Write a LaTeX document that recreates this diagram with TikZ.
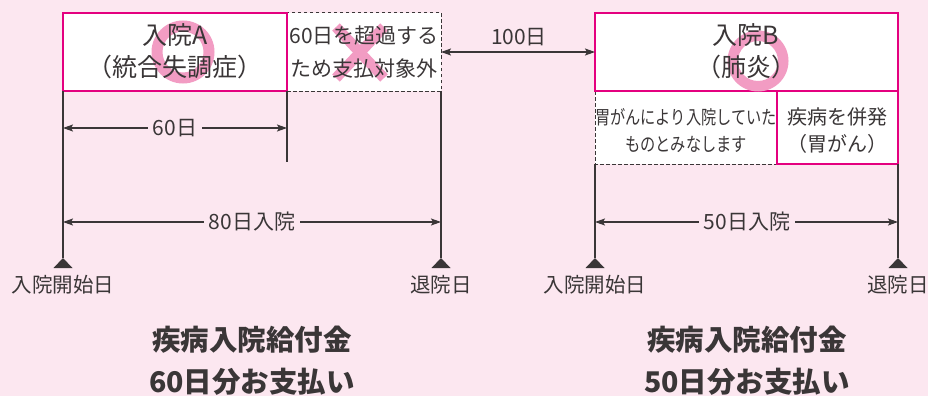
\documentclass[tikz,border=0pt]{standalone}
\usepackage{fontspec}
\setmainfont{Noto Sans CJK JP}
\usetikzlibrary{arrows.meta}
\definecolor{bg}{HTML}{FCE7F0}
\definecolor{mag}{HTML}{E4007F}
\definecolor{ringc}{HTML}{F29CC3}
\definecolor{ink}{HTML}{3A3637}
\tikzset{
  pinkbox/.style={draw=mag, line width=1.7pt, fill=white},
  dashbox/.style={draw=ink, dash pattern=on 3.5pt off 2.5pt, line width=1pt, fill=white},
  vline/.style={draw=ink, line width=1.1pt},
  dimline/.style={draw=ink, line width=1.1pt, {Stealth[length=10pt,width=7pt,inset=2pt]}-{Stealth[length=10pt,width=7pt,inset=2pt]}},
  txt/.style={text=ink, font=\fontsize{21}{33}\selectfont, align=center, inner sep=0pt},
  head/.style={txt, font=\fontsize{25}{32}\selectfont},
  lab/.style={txt, fill=bg, inner xsep=5pt, inner ysep=2pt},
  small/.style={txt, font=\fontsize{20}{27}\selectfont},
  big/.style={txt, font=\fontsize{28.5}{42}\selectfont\bfseries},
  markfill/.style={fill=ringc, even odd rule},
  tick/.style={fill=ink},
}
\begin{document}
\begin{tikzpicture}[x=1pt,y=-1pt]
\fill[bg] (0,0) rectangle (928,396);
\useasboundingbox (0,0) rectangle (928,396);

% coordinates
\coordinate (a1) at (63,91);  \coordinate (a1b) at (63,258);
\coordinate (a2) at (287,91); \coordinate (a2b) at (287,162);
\coordinate (a3) at (441,91); \coordinate (a3b) at (441,258);
\coordinate (b1) at (595,164); \coordinate (b1b) at (595,258);
\coordinate (b2) at (898,164); \coordinate (b2b) at (898,258);

% boxes
\path[dashbox] (287,13) rectangle (441,91);
\path[pinkbox] (63,13) rectangle (287,91);
\path[dashbox] (595,91) rectangle (777,164);
\path[pinkbox] (777,91) rectangle (898,164);
\path[pinkbox] (595,13) rectangle (898,91);

% marks (filled rings and cross)
\fill[markfill] (183,52) circle[radius=31.5pt] circle[radius=20.5pt];
\fill[markfill] (758,61) circle[radius=30.5pt] circle[radius=20pt];
\fill[ringc] (339.8,23.4) -- (387.8,74.4) -- (380.2,81.6) -- (332.2,30.6) -- cycle;
\fill[ringc] (387.8,30.6) -- (339.8,81.6) -- (332.2,74.4) -- (380.2,23.4) -- cycle;

% texts in boxes
\node[head] (tA) at (175,51) {入院A\\（統合失調症）};
\node[txt] (tX) at (364,52) {60日を超過する\\ため支払対象外};
\node[head] (tB) at (746,51) {入院B\\（肺炎）};
\node[txt, font=\fontsize{19}{27}\selectfont] (tC) at (686,131) {\scalebox{0.8}[1]{胃がんにより入院していた}\\\scalebox{0.8}[1]{ものとみなします}};
\node[small] (tD) at (837,131) {疾病を併発\\（胃がん）};

% vertical lines
\draw[vline] (a1) -- (a1b);
\draw[vline] (a2) -- (a2b);
\draw[vline] (a3) -- (a3b);
\draw[vline] (b1) -- (b1b);
\draw[vline] (b2) -- (b2b);

% triangles
\fill[tick] (a1b) -- ++(-9.5,10) -- ++(19,0) -- cycle;
\fill[tick] (a3b) -- ++(-9.5,10) -- ++(19,0) -- cycle;
\fill[tick] (b1b) -- ++(-9.5,10) -- ++(19,0) -- cycle;
\fill[tick] (b2b) -- ++(-9.5,10) -- ++(19,0) -- cycle;

% dimension arrows
\coordinate (d60a) at (63,128); \coordinate (d60b) at (287,128);
\draw[dimline] (d60a) -- (d60b);
\node[lab] (l60) at (175,128) {60日};
\coordinate (d100a) at (441,52); \coordinate (d100b) at (595,52);
\draw[dimline] (d100a) -- (d100b);
\node[txt] (l100) at (519,37) {100日};
\coordinate (d80a) at (63,222); \coordinate (d80b) at (441,222);
\draw[dimline] (d80a) -- (d80b);
\node[lab] (l80) at (252,222) {80日入院};
\coordinate (d50a) at (595,222); \coordinate (d50b) at (898,222);
\draw[dimline] (d50a) -- (d50b);
\node[lab] (l50) at (747,222) {50日入院};

% bottom labels
\node[txt, font=\fontsize{20.5}{25}\selectfont] (s1) at (63,285) {入院開始日};
\node[txt, font=\fontsize{20.5}{25}\selectfont] (e1) at (441,285) {退院日};
\node[txt, font=\fontsize{20.5}{25}\selectfont] (s2) at (595,285) {入院開始日};
\node[txt, font=\fontsize{20.5}{25}\selectfont] (e2) at (898,285) {退院日};

% results
\node[big] (r1) at (252,361) {疾病入院給付金\\60日分お支払い};
\node[big] (r2) at (747,361) {疾病入院給付金\\50日分お支払い};
\end{tikzpicture}
\end{document}
